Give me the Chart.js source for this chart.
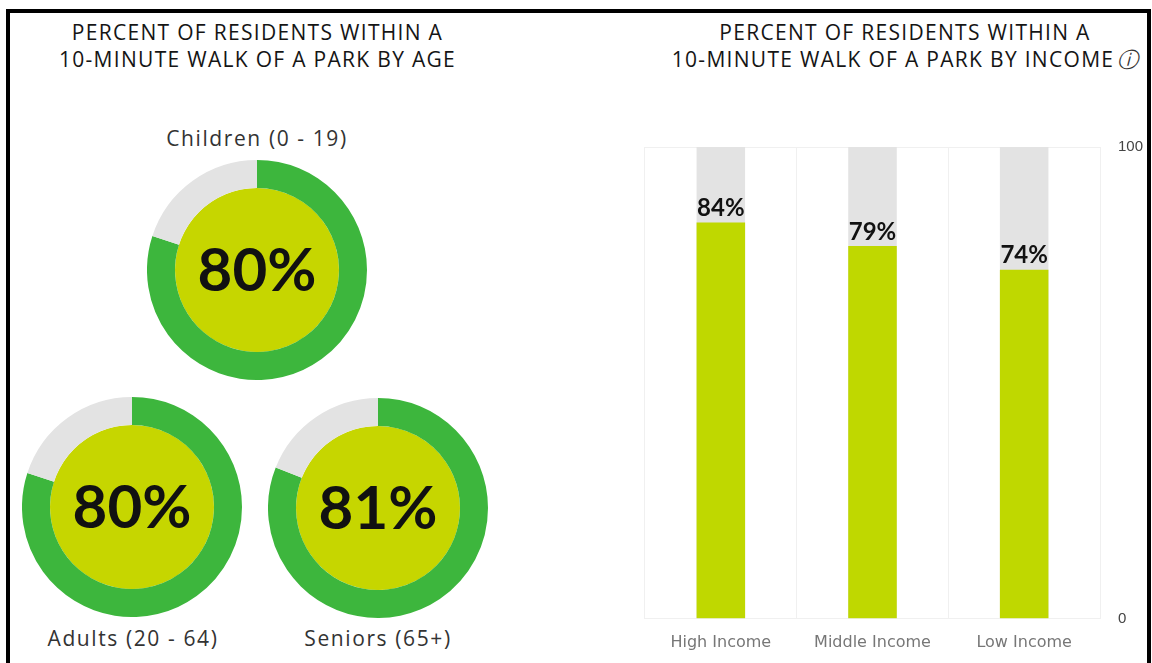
<!DOCTYPE html>
<html>
<head>
<meta charset="utf-8">
<script src="https://cdn.jsdelivr.net/npm/chart.js@4.4.1/dist/chart.umd.min.js"></script>
<style>
  html, body { margin: 0; padding: 0; background: #fff; }
  body { width: 1152px; height: 663px; position: relative; overflow: hidden; font-family: "Open Sans", Lato, sans-serif; }
  .frame { position: absolute; left: 6px; top: 9px; width: 1137px; height: 700px; border: 4px solid #000; }
  .title { position: absolute; text-align: center; font-size: 21px; font-weight: 500; line-height: 27px; color: #151515; letter-spacing: 1.3px; white-space: nowrap; }
  .lbl { position: absolute; text-align: center; font-size: 21px; color: #333; letter-spacing: 1.6px; width: 260px; }
  canvas { position: absolute; }
  .info { font-size: 21px; font-style: italic; color: #333; letter-spacing: 0; margin-left: 3px; }
</style>
</head>
<body>
<div class="frame"></div>

<div class="title" style="left:0px; top:19px; width:515px;">PERCENT OF RESIDENTS WITHIN A<br>10-MINUTE WALK OF A PARK BY AGE</div>
<div class="title" style="left:640px; top:19px; width:530px;">PERCENT OF RESIDENTS WITHIN A<br>10-MINUTE WALK OF A PARK BY INCOME<span class="info">ⓘ</span></div>

<div class="lbl" style="left:127px; top:124px;">Children (0 - 19)</div>
<div class="lbl" style="left:3px; top:624px;">Adults (20 - 64)</div>
<div class="lbl" style="left:248px; top:624px;">Seniors (65+)</div>

<canvas id="ageChild" style="left:147px; top:160px;" width="220" height="220"></canvas>
<canvas id="ageAdult" style="left:22px; top:397px;" width="220" height="220"></canvas>
<canvas id="ageSenior" style="left:268px; top:398px;" width="220" height="220"></canvas>

<canvas id="incomeChart" style="left:600px; top:120px;" width="548" height="546"></canvas>

<script>
// age groups (donuts)
var ageGroups = ["Children (0 - 19)", "Adults (20 - 64)", "Seniors (65+)"];
var agePercent = [80, 80, 81];

// income groups (bars)
var incomeGroups = ["High Income", "Middle Income", "Low Income"];
var incomePercent = [84, 79, 74];
var incomeTotal = [100, 100, 100];
var yTicks = [0, 100];

var ringGreen = "#3db63d";
var innerYellow = "#c6d600";
var barYellow = "#bfd800";
var lightGray = "#e3e3e3";

// center text for donuts
var centerText = {
    id: "centerText",
    afterDraw: function (chart) {
        var ctx = chart.ctx;
        var arc = chart.getDatasetMeta(0).data[0];
        ctx.save();
        ctx.font = "bold 60px Lato";
        ctx.fillStyle = "#111";
        ctx.textAlign = "center";
        ctx.textBaseline = "middle";
        ctx.fillText(chart.options.plugins.centerText.text, arc.x, arc.y + 2);
        ctx.restore();
    },
};

function makeDonut(id, value) {
    var ctx = document.getElementById(id).getContext("2d");
    new Chart(ctx, {
        type: "doughnut",
        data: {
            labels: ["Within", "Outside"],
            datasets: [
                {
                    data: [value, 100 - value],
                    backgroundColor: [ringGreen, lightGray],
                    borderWidth: 0,
                    weight: 28,
                },
                {
                    data: [100],
                    backgroundColor: [innerYellow],
                    borderWidth: 0,
                    weight: 82,
                },
            ],
        },
        options: {
            responsive: false,
            animation: false,
            cutout: 0,
            layout: { padding: 0 },
            plugins: {
                legend: { display: false },
                tooltip: { enabled: false },
                centerText: { text: value + "%" },
            },
        },
        plugins: [centerText],
    });
}

makeDonut("ageChild", agePercent[0]);
makeDonut("ageAdult", agePercent[1]);
makeDonut("ageSenior", agePercent[2]);

// value labels above the bars
var barLabels = {
    id: "barLabels",
    afterDatasetsDraw: function (chart) {
        var ctx = chart.ctx;
        var meta = chart.getDatasetMeta(0);
        ctx.save();
        ctx.font = "bold 24px Lato";
        ctx.fillStyle = "#111";
        ctx.textAlign = "center";
        ctx.textBaseline = "bottom";
        meta.data.forEach(function (bar, i) {
            ctx.fillText(incomePercent[i] + "%", bar.x, bar.y - 2);
        });
        ctx.restore();
    },
};

var barCtx = document.getElementById("incomeChart").getContext("2d");
new Chart(barCtx, {
    type: "bar",
    data: {
        labels: incomeGroups,
        datasets: [
            {
                label: "Within 10-minute walk",
                data: incomePercent,
                backgroundColor: barYellow,
                grouped: false,
                order: 1,
                barPercentage: 0.32,
                categoryPercentage: 1,
            },
            {
                label: "Total",
                data: incomeTotal,
                backgroundColor: lightGray,
                grouped: false,
                order: 2,
                barPercentage: 0.32,
                categoryPercentage: 1,
            },
        ],
    },
    options: {
        responsive: false,
        animation: false,
        layout: { padding: { left: 45, top: 27, bottom: 0, right: 0 } },
        plugins: {
            legend: { display: false },
            tooltip: { enabled: false },
        },
        scales: {
            x: {
                grid: { color: "#f0f0f0", drawTicks: false },
                border: { display: false },
                ticks: { color: "#777", font: { family: "DejaVu Sans", size: 16 }, padding: 14 },
            },
            y: {
                position: "right",
                min: 0,
                max: 100,
                afterBuildTicks: function (axis) {
                    axis.ticks = yTicks.map(function (v) { return { value: v }; });
                },
                afterFit: function (axis) {
                    axis.width = 48;
                },
                grid: { color: "#f0f0f0", drawTicks: false },
                border: { display: false },
                ticks: { color: "#444", font: { family: "Liberation Sans", size: 15 }, padding: 18 },
            },
        },
    },
    plugins: [barLabels],
});
</script>
</body>
</html>
